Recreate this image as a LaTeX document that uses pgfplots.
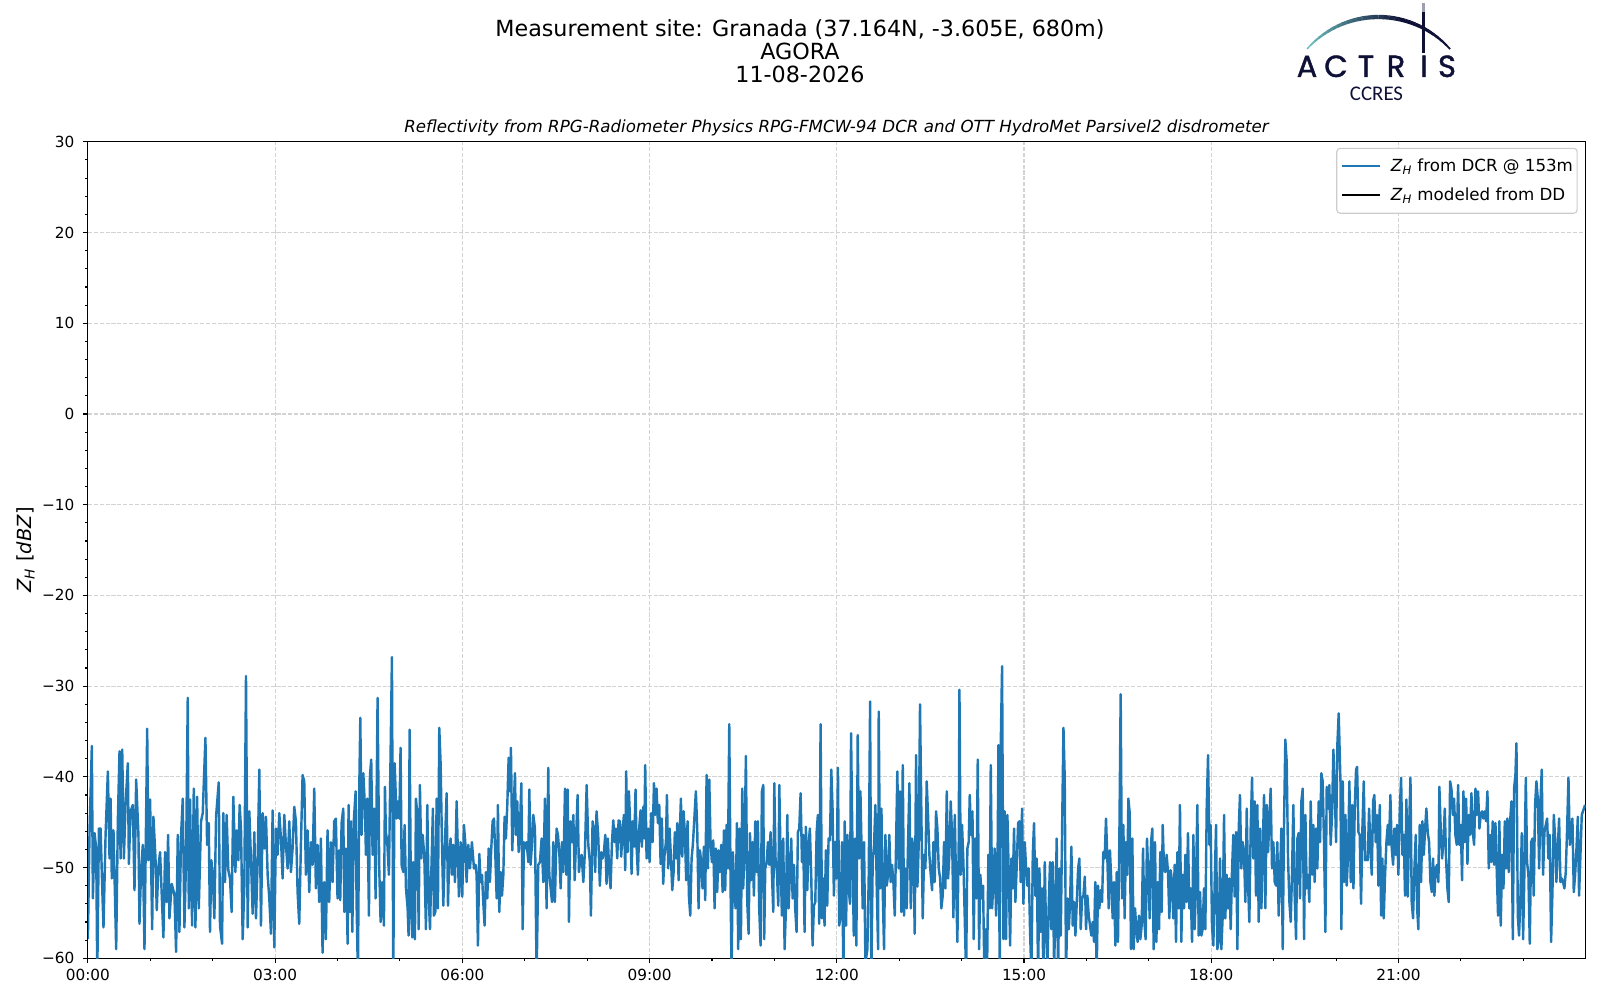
\documentclass[border=0pt]{standalone}
\usepackage{pgfplots}
\pgfplotsset{compat=1.18}
\usepackage{pgfplotstable}
\usepackage{fontspec}
\setmainfont{DejaVu Sans}
\newfontfamily\logofont{Poppins}[FakeBold=1.2]
\newfontfamily\ccresfont{Carlito}
\definecolor{mplblue}{RGB}{31,119,180}
\definecolor{gridgray}{RGB}{211,211,211}
\definecolor{legframe}{RGB}{204,204,204}
\definecolor{logoNavy}{RGB}{14,16,54}
\definecolor{logoTeal}{RGB}{108,192,190}
\pgfplotstableread{
min dbz
0.0 -57.9
1.6 -45.9
3.8 -36.6
4.8 -53.4
6.4 -46.2
8.0 -47.9
9.0 -62
10.6 -45.7
12.2 -45.7
13.8 -52.3
15.0 -56.6
17.0 -46.4
19.2 -39.4
20.8 -49.0
21.8 -42.4
23.0 -51.2
24.6 -45.9
27.2 -59.0
28.8 -44.8
30.4 -37.2
31.4 -49.0
33.0 -37.0
34.6 -49.0
36.2 -43.1
38.4 -38.5
39.4 -49.6
41.0 -43.8
43.2 -43.1
44.8 -52.5
46.4 -40.3
48.6 -46.4
49.6 -56.2
51.2 -50.1
52.8 -47.5
54.4 -59.0
57.0 -34.7
58.2 -49.2
59.8 -42.5
61.8 -56.8
63.0 -44.4
65.0 -49.0
66.2 -54.7
67.8 -49.9
69.4 -48.3
72.6 -57.7
74.2 -48.3
75.8 -53.8
77.1 -46.4
78.4 -55.6
80.6 -51.8
83.2 -53.0
84.8 -59.3
86.4 -46.4
88.0 -57.1
89.6 -46.4
91.2 -42.4
92.8 -56.6
94.4 -49.0
96.0 -31.3
97.0 -54.5
98.2 -42.5
100.2 -56.4
101.8 -41.3
103.4 -56.6
105.0 -42.2
106.6 -54.5
108.8 -44.9
110.4 -44.0
113.0 -35.7
114.6 -47.5
116.2 -45.1
117.4 -57.1
118.7 -49.2
120.0 -50.8
121.6 -55.6
123.2 -44.4
125.8 -40.6
127.0 -56.4
129.0 -58.4
130.2 -44.0
131.8 -51.6
133.4 -44.2
135.0 -50.3
136.6 -51.2
138.2 -54.9
139.8 -42.2
141.8 -50.5
143.0 -45.9
144.6 -49.2
145.9 -43.1
147.2 -45.7
148.8 -57.9
150.4 -52.0
152.0 -28.9
153.6 -56.6
155.2 -43.8
156.8 -49.2
158.4 -55.1
160.0 -46.1
161.6 -55.6
163.2 -49.4
164.8 -39.2
166.4 -56.4
168.0 -44.0
169.6 -47.9
171.2 -44.4
172.8 -50.8
174.4 -53.4
176.0 -57.3
177.6 -43.7
179.2 -58.8
180.8 -45.7
182.4 -48.6
184.0 -44.0
185.6 -46.8
187.2 -51.2
188.8 -44.2
190.4 -47.5
192.0 -50.1
193.6 -44.9
195.2 -50.5
196.8 -47.9
198.4 -43.3
200.0 -44.9
201.6 -52.7
203.2 -56.2
204.8 -47.5
206.4 -39.8
208.0 -40.5
209.6 -50.8
211.2 -45.9
212.8 -52.7
214.4 -47.2
216.0 -49.7
217.6 -41.3
219.2 -52.3
220.8 -47.5
222.4 -53.8
224.0 -46.8
225.6 -59.4
227.2 -51.6
228.8 -57.9
230.4 -45.9
232.0 -53.8
233.6 -47.2
235.2 -51.6
236.8 -44.9
238.4 -44.6
240.0 -53.4
241.4 -48.1
242.6 -53.6
243.9 -45.1
245.5 -43.5
246.5 -54.9
248.1 -47.9
249.7 -58.4
250.6 -43.1
251.9 -54.9
252.9 -44.9
254.2 -57.1
255.8 -44.6
257.4 -41.6
258.3 -53.8
259.6 -62
260.9 -41.3
261.9 -33.5
263.1 -46.4
264.8 -39.6
266.4 -43.5
267.3 -48.6
268.6 -42.4
270.2 -55.3
271.2 -39.8
272.4 -38.1
273.7 -48.6
275.3 -43.5
276.6 -53.4
278.5 -31.3
280.1 -50.1
281.4 -56.0
283.0 -51.6
284.6 -56.4
285.6 -41.1
286.5 -46.1
287.8 -47.2
289.4 -50.8
292.3 -26.8
293.6 -62
294.9 -38.5
296.8 -44.6
298.1 -42.7
299.4 -44.6
300.6 -36.8
301.6 -49.7
303.2 -50.5
304.5 -45.3
305.8 -52.3
307.4 -54.5
308.3 -57.5
309.3 -34.8
310.6 -54.5
311.9 -57.7
312.8 -49.4
314.4 -57.9
315.4 -42.4
316.7 -44.2
318.0 -56.8
319.2 -40.9
320.5 -49.0
321.8 -46.4
323.4 -48.6
325.0 -56.8
326.3 -43.1
327.6 -53.1
328.9 -56.8
330.1 -50.8
331.7 -43.5
332.7 -55.3
334.0 -54.9
335.3 -42.4
336.5 -54.5
337.8 -34.6
339.1 -38.5
340.4 -47.2
341.7 -54.2
343.3 -47.2
344.9 -41.8
346.2 -54.2
347.4 -48.6
348.7 -46.8
350.0 -50.8
351.3 -47.5
352.9 -51.6
354.5 -42.7
355.5 -47.5
356.7 -53.2
358.3 -47.2
359.9 -53.2
361.5 -45.3
362.8 -47.2
364.1 -51.6
365.7 -47.5
367.3 -50.1
369.2 -47.2
371.2 -50.1
372.8 -49.7
373.7 -50.8
375.0 -58.6
376.3 -48.5
377.6 -51.6
378.9 -50.8
380.1 -53.8
381.4 -56.4
382.7 -50.5
384.0 -53.4
385.3 -47.9
386.5 -51.6
387.8 -47.9
389.1 -44.9
390.4 -44.6
391.7 -48.6
393.0 -53.4
394.2 -43.1
395.5 -54.9
396.8 -50.5
398.1 -53.1
399.4 -50.8
400.6 -44.4
401.9 -46.8
403.2 -43.1
404.5 -37.9
405.8 -41.6
406.7 -36.8
408.0 -48.1
409.3 -43.5
410.6 -39.6
411.5 -46.4
412.8 -42.7
414.1 -48.3
415.4 -45.7
416.7 -40.7
418.0 -56.8
419.2 -47.2
420.5 -47.9
421.8 -47.2
423.4 -49.4
424.4 -41.4
425.6 -49.7
426.9 -47.5
428.2 -44.2
429.8 -45.7
431.4 -62
433.0 -49.7
434.6 -49.4
436.2 -46.8
437.8 -51.6
439.4 -42.4
441.0 -54.5
442.6 -39.0
443.6 -50.8
444.9 -52.3
446.2 -53.8
447.4 -47.2
449.0 -53.8
450.6 -45.7
451.9 -46.4
453.2 -48.3
454.5 -52.3
455.8 -47.2
457.1 -50.5
458.7 -41.3
460.0 -50.8
461.2 -41.4
462.5 -56.0
463.8 -44.9
465.1 -47.2
466.7 -44.2
468.0 -51.4
469.2 -47.2
470.8 -42.0
472.1 -50.5
473.4 -49.0
474.7 -48.6
476.3 -51.6
477.9 -48.1
479.5 -40.9
481.1 -47.5
482.6 -49.4
483.6 -55.3
485.2 -44.9
486.5 -45.7
487.7 -50.5
489.0 -43.8
490.6 -46.4
492.2 -52.0
493.5 -48.3
494.8 -49.0
496.1 -48.3
497.4 -46.4
498.6 -51.8
499.9 -46.8
501.2 -50.5
502.5 -52.3
503.8 -47.3
505.1 -44.8
506.3 -47.2
507.6 -45.7
508.9 -49.0
510.2 -44.8
511.5 -44.9
512.7 -48.8
514.0 -46.1
515.3 -44.2
516.6 -50.3
517.5 -39.4
518.8 -48.3
520.1 -41.6
521.4 -45.3
522.7 -50.7
524.0 -44.9
525.2 -47.7
526.5 -41.4
527.5 -47.7
528.8 -50.8
530.0 -45.7
531.3 -43.7
532.6 -47.7
533.9 -43.3
534.9 -46.8
535.8 -38.7
537.1 -49.0
538.7 -45.7
540.0 -49.4
541.6 -44.0
542.9 -47.2
544.2 -40.7
545.4 -44.2
546.7 -41.3
548.0 -45.1
549.3 -43.1
550.6 -49.6
551.8 -44.6
553.1 -51.8
554.4 -48.6
555.7 -47.2
556.7 -42.0
557.9 -50.1
559.2 -45.7
560.5 -48.8
561.8 -52.5
563.1 -50.5
564.3 -46.1
565.6 -49.0
566.6 -45.1
567.9 -51.4
569.2 -45.7
570.1 -42.4
571.4 -48.8
572.7 -43.8
574.0 -46.4
575.2 -51.4
576.5 -44.9
577.8 -53.1
579.1 -55.3
580.4 -49.0
581.6 -47.5
582.9 -44.9
584.5 -41.6
585.8 -45.7
587.1 -54.5
588.4 -48.1
589.7 -49.4
590.9 -52.3
592.2 -47.7
593.5 -53.6
594.8 -39.8
596.1 -50.1
597.4 -40.3
598.6 -47.2
599.9 -49.4
601.2 -47.0
602.5 -54.5
603.8 -47.9
605.0 -52.7
606.3 -48.1
607.6 -50.5
608.9 -47.5
610.2 -52.7
611.5 -45.9
612.7 -52.5
614.0 -45.3
615.3 -50.1
616.6 -34.2
617.9 -52.3
618.8 -62
620.1 -48.3
621.4 -52.5
622.7 -54.5
624.0 -45.1
625.2 -59.0
626.5 -45.7
627.8 -57.9
629.1 -41.3
630.0 -52.3
631.3 -47.9
632.6 -37.7
633.9 -53.8
635.2 -57.3
636.5 -46.2
637.7 -51.4
639.0 -47.2
640.3 -53.1
641.6 -44.9
642.9 -50.5
644.1 -44.9
645.4 -54.5
646.7 -58.6
648.0 -41.6
649.3 -40.9
650.2 -57.9
651.2 -50.1
652.5 -49.4
653.8 -47.2
655.0 -49.7
656.3 -46.1
657.6 -50.5
658.9 -54.9
659.9 -40.7
661.1 -49.0
662.4 -50.5
663.7 -54.2
664.7 -40.9
665.9 -48.6
667.2 -55.3
668.5 -46.8
669.8 -59.0
671.1 -54.5
672.4 -44.2
673.6 -54.5
674.9 -50.8
676.2 -46.8
677.5 -53.4
678.8 -49.7
680.0 -54.5
681.3 -57.1
682.6 -46.1
683.9 -45.7
685.2 -41.8
686.5 -49.4
687.7 -46.4
689.0 -57.1
690.3 -45.5
691.6 -52.5
692.9 -47.5
694.1 -45.7
695.4 -50.8
696.7 -58.6
698.0 -54.2
699.3 -53.8
700.6 -46.1
701.8 -44.2
703.1 -56.2
704.4 -34.2
705.7 -55.6
707.0 -51.2
708.2 -56.4
709.5 -48.1
710.8 -54.2
712.1 -46.8
713.4 -47.0
714.7 -39.2
715.9 -43.5
717.2 -53.1
718.5 -47.2
719.8 -51.2
721.1 -39.0
722.3 -56.4
723.8 -55.3
725.0 -47.2
726.3 -62
727.6 -44.9
728.9 -56.4
730.2 -46.4
731.4 -52.3
732.7 -54.0
733.7 -35.2
735.0 -47.2
736.3 -57.5
737.5 -46.8
738.8 -58.6
740.1 -35.4
741.4 -49.0
742.7 -41.6
743.9 -48.6
744.9 -54.5
746.2 -47.2
747.5 -60.5
749.4 -59.0
750.7 -50.8
752.0 -31.7
753.2 -62
754.5 -49.4
755.8 -47.5
757.1 -43.1
758.4 -52.3
759.7 -59.0
760.3 -32.8
761.6 -52.3
762.9 -43.5
764.1 -52.3
765.4 -59.0
766.7 -46.4
768.0 -52.0
769.3 -50.8
770.5 -46.4
771.8 -51.6
773.1 -49.7
774.4 -51.6
775.7 -55.3
777.0 -47.2
778.2 -39.4
779.5 -50.1
780.8 -41.6
782.1 -54.9
783.4 -38.7
784.6 -55.3
785.9 -50.1
787.2 -54.5
788.5 -47.2
789.8 -40.7
791.1 -54.5
792.3 -46.8
793.6 -47.9
794.9 -57.3
796.2 -37.6
797.5 -52.1
798.8 -47.2
800.0 -32.0
801.3 -44.2
802.6 -55.6
803.9 -48.6
805.2 -50.1
806.4 -40.5
807.7 -44.2
809.0 -48.6
810.3 -50.8
811.6 -52.5
812.9 -47.2
814.1 -51.6
815.4 -43.8
816.7 -45.7
818.0 -50.1
819.3 -51.2
820.5 -54.5
821.8 -53.1
823.1 -47.2
824.4 -52.3
825.7 -41.6
827.0 -51.2
828.2 -48.6
829.5 -42.7
830.8 -46.4
832.1 -55.5
833.4 -44.2
834.6 -51.2
835.9 -58.2
837.2 -47.2
837.9 -30.4
839.1 -50.8
840.4 -45.3
841.7 -49.4
843.0 -55.6
844.3 -62
845.5 -47.9
846.8 -47.2
847.8 -42.0
849.1 -46.4
850.4 -43.8
851.6 -57.9
852.9 -46.8
854.2 -53.4
855.5 -38.1
856.8 -59.0
858.0 -50.8
859.3 -53.4
860.6 -52.0
861.9 -62
863.2 -56.8
864.5 -61
865.7 -48.6
867.0 -54.5
868.0 -38.7
869.3 -54.5
870.5 -51.6
871.8 -47.9
873.1 -55.3
874.4 -51.6
875.4 -36.5
876.6 -62
877.6 -36.5
878.9 -27.8
880.2 -57.9
881.4 -43.8
882.7 -57.9
884.0 -44.2
885.3 -50.8
886.6 -58.6
887.9 -49.0
889.1 -52.3
890.4 -45.7
891.7 -53.8
893.0 -49.7
894.3 -45.1
895.5 -44.9
896.8 -51.6
898.1 -43.5
899.4 -54.0
900.7 -47.2
902.0 -50.1
903.2 -52.0
904.5 -50.1
905.8 -57.1
907.1 -62
908.4 -48.6
909.6 -45.1
910.9 -53.1
912.2 -49.0
913.5 -62
914.8 -50.1
916.1 -57.1
917.3 -52.3
918.6 -62
919.9 -49.4
921.2 -57.1
922.5 -61
923.8 -53.8
925.0 -49.4
926.3 -56.8
927.6 -49.4
928.9 -61
930.2 -54.5
931.4 -46.8
932.7 -62
934.0 -50.1
935.3 -57.5
936.6 -45.7
937.9 -34.6
939.1 -40.1
940.4 -62
941.7 -53.4
943.0 -56.8
944.3 -53.8
945.5 -47.7
946.8 -56.4
948.1 -53.8
949.4 -57.5
950.7 -53.8
952.0 -50.1
953.2 -49.0
954.5 -56.8
955.8 -53.4
957.1 -53.1
958.4 -51.0
959.6 -56.8
960.9 -53.1
962.2 -55.3
964.7 -57.5
966.0 -56.0
967.3 -58.2
968.5 -51.6
969.8 -62
971.1 -52.0
972.4 -54.5
973.7 -52.5
975.0 -53.8
976.2 -48.3
977.5 -49.0
978.8 -44.6
980.1 -49.0
981.4 -54.5
982.6 -48.1
983.9 -51.6
985.2 -55.6
986.5 -51.6
987.8 -58.6
989.1 -50.5
990.3 -58.2
991.6 -47.2
992.9 -30.9
994.2 -53.4
995.5 -45.3
996.7 -55.6
998.0 -47.2
999.3 -50.8
1000.3 -42.4
1001.6 -44.0
1002.8 -59.0
1004.1 -46.8
1005.4 -59.0
1006.7 -54.5
1008.0 -56.8
1009.2 -58.2
1010.5 -55.3
1011.8 -57.9
1013.1 -56.4
1014.4 -47.9
1015.7 -56.0
1016.9 -57.9
1018.2 -46.8
1019.5 -50.8
1020.8 -55.6
1022.1 -47.2
1023.3 -45.7
1024.6 -59.0
1025.9 -47.2
1027.2 -58.2
1028.5 -51.6
1029.8 -56.8
1031.0 -48.3
1032.3 -54.9
1033.3 -45.3
1034.6 -50.1
1035.8 -50.5
1037.1 -48.6
1038.4 -50.5
1039.7 -55.6
1041.0 -50.3
1042.3 -51.6
1043.5 -55.6
1044.8 -49.7
1046.1 -58.2
1047.4 -48.3
1048.7 -54.5
1049.9 -43.1
1051.2 -58.2
1052.5 -50.8
1053.8 -54.5
1055.1 -48.6
1056.4 -53.8
1057.6 -46.2
1058.9 -54.5
1060.2 -52.3
1061.5 -58.2
1062.8 -46.4
1064.0 -56.8
1065.3 -52.0
1066.6 -43.1
1067.9 -57.5
1069.2 -52.7
1070.5 -57.5
1071.7 -56.8
1073.0 -52.3
1074.3 -56.8
1075.6 -43.5
1076.9 -37.6
1078.2 -47.5
1079.4 -45.3
1080.7 -56.4
1082.0 -58.6
1083.3 -51.6
1084.6 -45.3
1085.8 -59.0
1087.1 -58.2
1088.4 -49.0
1089.7 -59.0
1091.0 -55.3
1092.3 -44.2
1093.5 -55.6
1094.8 -50.8
1096.1 -54.5
1097.4 -51.2
1098.7 -56.8
1099.9 -50.5
1101.2 -46.4
1102.5 -53.2
1103.8 -46.1
1105.1 -59.0
1106.4 -45.7
1107.6 -42.0
1108.9 -50.1
1110.2 -47.2
1111.5 -48.6
1112.8 -53.8
1114.1 -43.5
1115.3 -51.6
1116.6 -56.0
1117.9 -45.7
1119.2 -40.1
1120.5 -49.0
1121.7 -42.7
1123.0 -53.1
1124.3 -43.1
1125.6 -56.0
1126.9 -45.7
1128.2 -54.5
1129.4 -48.6
1130.7 -42.0
1132.0 -54.5
1133.3 -43.1
1134.6 -48.3
1135.8 -44.8
1137.1 -41.3
1138.4 -50.1
1139.7 -47.2
1141.0 -51.6
1142.3 -52.0
1143.5 -47.2
1144.8 -55.3
1146.1 -50.8
1147.4 -45.7
1148.7 -59.0
1149.9 -45.5
1151.2 -35.9
1152.5 -38.3
1153.8 -49.0
1155.1 -53.8
1156.4 -56.0
1157.6 -50.8
1158.9 -43.1
1160.2 -53.1
1161.5 -57.9
1162.8 -46.8
1164.0 -46.2
1165.3 -53.4
1166.6 -42.7
1167.9 -41.3
1169.2 -57.9
1170.5 -44.2
1171.7 -52.3
1173.0 -50.8
1174.3 -53.8
1175.6 -42.7
1176.9 -50.8
1178.1 -45.3
1179.4 -51.6
1180.7 -45.7
1182.0 -50.1
1183.3 -42.7
1184.6 -47.2
1185.8 -39.6
1187.1 -40.5
1188.4 -47.2
1189.7 -57.1
1191.0 -41.1
1192.3 -43.5
1193.5 -40.9
1194.8 -47.5
1196.1 -44.2
1197.4 -37.0
1198.7 -41.6
1200.0 -47.2
1201.2 -36.5
1202.5 -33.0
1204.2 -40.5
1205.1 -56.8
1206.4 -40.5
1207.7 -51.6
1209.0 -44.2
1210.2 -52.0
1211.5 -48.6
1212.8 -40.5
1214.1 -51.6
1215.4 -43.1
1216.7 -52.3
1217.9 -43.5
1219.2 -39.2
1220.2 -38.9
1221.5 -46.1
1222.7 -46.4
1224.0 -54.0
1225.3 -45.7
1226.6 -40.5
1227.9 -49.2
1229.1 -49.0
1230.4 -49.2
1231.7 -43.5
1233.0 -47.9
1234.3 -50.8
1235.6 -42.7
1236.8 -42.0
1238.1 -47.2
1239.4 -44.2
1240.7 -52.0
1242.0 -43.1
1243.3 -55.3
1244.5 -49.0
1245.8 -55.6
1247.1 -50.8
1248.4 -47.2
1249.7 -45.3
1250.9 -47.5
1252.2 -42.0
1253.5 -47.9
1254.8 -49.7
1256.1 -45.7
1257.4 -48.6
1258.6 -45.3
1259.9 -50.8
1261.2 -43.8
1262.5 -40.1
1263.8 -48.6
1265.0 -46.4
1266.3 -53.1
1267.6 -42.5
1268.9 -53.2
1270.2 -45.7
1271.5 -40.1
1272.7 -53.8
1274.0 -55.6
1275.3 -50.1
1276.6 -46.4
1277.9 -54.5
1279.1 -56.8
1280.4 -45.3
1281.7 -51.6
1283.0 -44.9
1284.3 -48.6
1285.6 -45.7
1286.8 -43.5
1288.1 -46.1
1289.4 -47.2
1290.7 -51.6
1292.0 -52.7
1293.2 -49.0
1294.5 -53.1
1295.8 -50.1
1297.1 -49.7
1298.4 -51.6
1299.3 -41.1
1300.6 -45.7
1301.9 -49.0
1303.2 -47.2
1304.5 -43.5
1305.7 -49.0
1307.0 -52.3
1308.3 -53.8
1309.6 -40.5
1310.9 -41.3
1312.2 -44.2
1313.4 -42.4
1314.7 -46.4
1316.0 -47.5
1317.3 -40.9
1318.6 -47.5
1319.9 -45.3
1321.1 -51.4
1322.4 -41.6
1323.7 -47.2
1325.0 -42.4
1326.3 -49.6
1327.5 -44.2
1328.8 -46.4
1330.1 -41.8
1331.4 -46.1
1332.7 -47.5
1334.0 -41.3
1335.2 -44.2
1336.5 -41.6
1337.8 -45.7
1339.1 -44.2
1340.4 -43.8
1341.6 -44.6
1342.9 -43.8
1344.2 -44.9
1345.5 -41.6
1346.8 -50.1
1348.1 -46.4
1349.3 -49.4
1350.6 -44.9
1351.9 -49.7
1353.2 -45.1
1354.5 -50.5
1355.7 -55.3
1357.0 -44.9
1358.3 -56.4
1359.6 -48.6
1360.9 -52.3
1362.2 -44.9
1363.4 -50.1
1364.7 -44.6
1366.0 -50.5
1367.3 -44.9
1368.6 -42.7
1369.9 -57.9
1371.1 -41.3
1372.4 -39.8
1373.4 -36.3
1374.7 -55.3
1375.9 -57.5
1377.2 -53.4
1378.5 -46.2
1379.8 -57.9
1381.1 -50.1
1382.4 -40.1
1383.6 -49.4
1384.9 -50.8
1386.2 -58.4
1387.5 -47.2
1388.8 -46.8
1390.0 -53.1
1391.3 -43.1
1392.6 -40.5
1393.9 -42.4
1395.2 -50.1
1396.5 -42.7
1397.7 -39.2
1399.0 -50.8
1400.3 -46.1
1401.6 -45.3
1402.9 -44.6
1404.1 -49.0
1405.4 -46.4
1406.7 -58.2
1408.0 -52.7
1409.3 -44.2
1410.6 -46.8
1411.8 -51.6
1413.1 -47.9
1414.4 -44.6
1415.7 -51.6
1417.0 -51.2
1418.2 -51.6
1419.5 -52.3
1420.8 -50.5
1422.1 -45.7
1423.4 -40.1
1424.7 -47.5
1425.9 -46.4
1427.2 -44.6
1428.5 -52.7
1429.8 -50.8
1431.1 -47.9
1432.4 -44.4
1433.6 -53.1
1436.2 -44.2
1439.4 -43.1
}\dcrdata
\begin{document}
\begin{tikzpicture}[x=0.01in,y=0.01in]
\path[use as bounding box] (0,0) rectangle (1600,1000);
% titles
\node[anchor=base,inner sep=0pt,font=\fontsize{16bp}{19bp}\selectfont] at (800,963) {Measurement site: Granada (37.164N, -3.605E, 680m)};
\node[anchor=base,inner sep=0pt,font=\fontsize{16bp}{19bp}\selectfont] at (800,940) {AGORA};
\node[anchor=base,inner sep=0pt,font=\fontsize{16bp}{19bp}\selectfont] at (800,917) {11-08-2026};
\node[anchor=base,inner sep=0pt,font=\fontsize{12bp}{14bp}\selectfont\itshape] at (836.5,867) {Reflectivity from RPG-Radiometer Physics RPG-FMCW-94 DCR and OTT HydroMet Parsivel2 disdrometer};
\begin{axis}[
  at={(84.5,46)}, anchor=south west,
  scale only axis, width=14.97in, height=8.16in,
  xmin=0, xmax=1440, ymin=-60, ymax=30,
  xtick={0,180,360,540,720,900,1080,1260},
  xticklabels={00:00,03:00,06:00,09:00,12:00,15:00,18:00,21:00},
  minor xtick={60,120,240,300,420,480,600,660,780,840,960,1020,1140,1200,1320,1380},
  ytick={-60,-50,-40,-30,-20,-10,0,10,20,30},
  yticklabels={−60,−50,−40,−30,−20,−10,0,10,20,30},
  minor ytick={-58,-56,...,28},
  tick align=outside,
  major tick length=0.049in, minor tick length=0.028in,
  tick style={black, line width=0.8bp},
  axis line style={line width=0.8bp},
  xtick pos=bottom, ytick pos=left,
  grid=major,
  major grid style={gridgray, line width=0.8bp, dash pattern=on 2.96bp off 1.28bp},
  ticklabel style={font=\fontsize{11bp}{13bp}\selectfont},
  yticklabel style={inner sep=0pt, xshift=-6bp},
  xticklabel style={inner sep=0pt, yshift=-4.4bp},
  ylabel={\textit{Z}\textsubscript{\textit{H}} [\textit{dBZ}]},
  every axis y label/.style={at={(axis description cs:-0.0415,0.5)}, rotate=90, anchor=center, font=\fontsize{14bp}{16bp}\selectfont},
  legend cell align=left,
  legend image code/.code={\draw[#1, line width=1.5bp] (0bp,0bp) -- (27bp,0bp);},
  legend style={at={(axis description cs:0.99466,0.9927)}, anchor=north east,
    draw=legframe, fill=white, rounded corners=2.5bp, line width=0.8bp,
    font=\fontsize{12bp}{14bp}\selectfont, inner xsep=3bp, inner ysep=5.5bp,
    row sep=6.5bp, nodes={inner xsep=0bp, inner ysep=2bp},
    /tikz/every odd column/.append style={column sep=7.5bp},
    /tikz/every even column/.append style={column sep=0bp}},
]
\addplot[mplblue, line width=1.75bp, line join=round] table[x=min,y=dbz] {\dcrdata};
\addlegendentry{\textit{Z}\textsubscript{\textit{H}} from DCR @ 153m}
\addlegendimage{black, line width=1.5bp}
\addlegendentry{\textit{Z}\textsubscript{\textit{H}} modeled from DD}
\end{axis}
% logo
\foreach \i in {0,...,29} {
  \pgfmathsetmacro\a{138.2-\i*3.213}
  \pgfmathsetmacro\b{\a-3.313}
  \pgfmathtruncatemacro\p{min(100,\i*100/19)}
  \pgfmathsetmacro\w{1.1+2.0*sin(\i*6)}
  \draw[line width=\w bp, color=logoNavy!\p!logoTeal] ([shift={(\a:95.9)}]1378.5,887.1) arc[start angle=\a, end angle=\b, radius=95.9];
}
\draw[logoNavy!40, line width=1.5bp] (1423.5,997) -- (1423.5,988);
\draw[logoNavy, line width=1.5bp] (1423.5,988) -- (1423.5,947);
\begin{scope}[logoNavy]
\node[anchor=base,inner sep=0pt,font=\logofont\fontsize{22bp}{24bp}\selectfont] at (1307,923) {A};
\node[anchor=base,inner sep=0pt,font=\logofont\fontsize{22bp}{24bp}\selectfont] at (1336,923) {C};
\node[anchor=base,inner sep=0pt,font=\logofont\fontsize{22bp}{24bp}\selectfont] at (1366,923) {T};
\node[anchor=base,inner sep=0pt,font=\logofont\fontsize{22bp}{24bp}\selectfont] at (1396,923) {R};
\node[anchor=base,inner sep=0pt,font=\logofont\fontsize{22bp}{24bp}\selectfont] at (1424,923) {I};
\node[anchor=base,inner sep=0pt,font=\logofont\fontsize{22bp}{24bp}\selectfont] at (1447,923) {S};
\node[anchor=base,inner sep=0pt,font=\ccresfont\fontsize{15bp}{18bp}\selectfont] at (1376.5,899) {CCRES};
\end{scope}
\end{tikzpicture}
\end{document}
